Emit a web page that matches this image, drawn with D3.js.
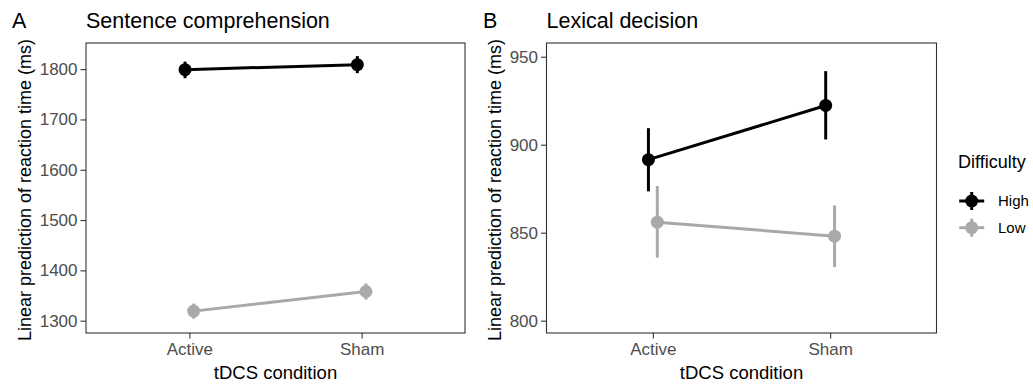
<!DOCTYPE html>
<html>
<head>
<meta charset="utf-8">
<script src="https://cdn.jsdelivr.net/npm/d3@7"></script>
<style>
  body { margin: 0; background: #fff; }
  svg { display: block; font-family: "Liberation Sans", Arial, sans-serif; }
</style>
</head>
<body>
<script>
// categories
var conditions = ["Active", "Sham"];
var difficulty = ["High", "Low"];

// Sentence comprehension: estimates and interval bounds
var sentHigh = [1799, 1809], sentHighLo = [1782, 1792], sentHighHi = [1815, 1826];
var sentLow = [1319, 1358], sentLowLo = [1304, 1342], sentLowHi = [1334, 1374];
var sentTicks = [1300, 1400, 1500, 1600, 1700, 1800];

// Lexical decision
var lexHigh = [891.5, 922.3], lexHighLo = [873.5, 903], lexHighHi = [909.4, 941.8];
var lexLow = [856, 848], lexLowLo = [835.8, 830.5], lexLowHi = [876.5, 865.5];
var lexTicks = [800, 850, 900, 950];

var colors = {High: "#000000", Low: "#a9a9a9"};

var W = 1033, H = 384;
var svg = d3.select("body").append("svg").attr("width", W).attr("height", H);

function rows(means, lo, hi, grp) {
    return conditions.map(function (c, i) {
        return {cond: c, grp: grp, m: means[i], lo: lo[i], hi: hi[i]};
    });
}

function panel(opt) {
    var x = d3.scalePoint().domain(conditions).range([opt.left, opt.right]).padding(0.6);
    var y = d3.scaleLinear().domain(opt.ydom).range([opt.bottom, opt.top]);
    var dodge = x.step() * 0.025;
    var off = {High: -dodge, Low: dodge};

    var g = svg.append("g");

    // panel tag + title
    g.append("text").attr("x", opt.tagX).attr("y", 28).attr("font-size", 21.5).attr("fill", "#000").text(opt.tag);
    g.append("text").attr("x", opt.left).attr("y", 28).attr("font-size", 21.5).attr("fill", "#000").text(opt.title);

    // axes
    var ya = d3.axisLeft(y).tickValues(opt.ticks).tickFormat(d3.format("d")).tickSize(5.5).tickPadding(3);
    var yg = g.append("g").attr("transform", "translate(" + opt.left + ",0)").call(ya);
    var xa = d3.axisBottom(x).tickSize(5.5).tickPadding(4);
    var xg = g.append("g").attr("transform", "translate(0," + opt.bottom + ")").call(xa);
    [yg, xg].forEach(function (a) {
        a.select(".domain").remove();
        a.selectAll(".tick line").attr("stroke", "#333333").attr("stroke-width", 1.1);
        a.selectAll(".tick text").attr("fill", "#4d4d4d").attr("font-size", 17)
            .attr("font-family", "Liberation Sans, Arial, sans-serif");
    });

    // axis titles
    g.append("text").attr("transform", "translate(" + opt.ytitleX + "," + ((opt.top + opt.bottom) / 2 + 2) + ") rotate(-90)")
        .attr("text-anchor", "middle").attr("font-size", 18).attr("fill", "#000")
        .text("Linear prediction of reaction time (ms)");
    g.append("text").attr("x", (opt.left + opt.right) / 2).attr("y", 379)
        .attr("text-anchor", "middle").attr("font-size", 18.5).attr("fill", "#000")
        .text("tDCS condition");

    // series
    opt.series.forEach(function (s) {
        var line = d3.line().x(function (d) { return x(d.cond) + off[d.grp]; }).y(function (d) { return y(d.m); });
        g.append("path").datum(s).attr("d", line).attr("fill", "none")
            .attr("stroke", colors[s[0].grp]).attr("stroke-width", 3);
        g.selectAll(null).data(s).enter().append("line")
            .attr("x1", function (d) { return x(d.cond) + off[d.grp]; })
            .attr("x2", function (d) { return x(d.cond) + off[d.grp]; })
            .attr("y1", function (d) { return y(d.lo); })
            .attr("y2", function (d) { return y(d.hi); })
            .attr("stroke", function (d) { return colors[d.grp]; }).attr("stroke-width", 3);
        g.selectAll(null).data(s).enter().append("circle")
            .attr("cx", function (d) { return x(d.cond) + off[d.grp]; })
            .attr("cy", function (d) { return y(d.m); })
            .attr("r", 6.5)
            .attr("fill", function (d) { return colors[d.grp]; });
    });

    // panel border
    g.append("rect").attr("x", opt.left).attr("y", opt.top)
        .attr("width", opt.right - opt.left).attr("height", opt.bottom - opt.top)
        .attr("fill", "none").attr("stroke", "#333333").attr("stroke-width", 1.1);
}

panel({
    tag: "A", tagX: 12, title: "Sentence comprehension",
    left: 86, right: 465, top: 43, bottom: 333, ytitleX: 31,
    ydom: [1275.5, 1852], ticks: sentTicks,
    series: [rows(sentHigh, sentHighLo, sentHighHi, "High"), rows(sentLow, sentLowLo, sentLowHi, "Low")]
});

panel({
    tag: "B", tagX: 483, title: "Lexical decision",
    left: 546.5, right: 936.5, top: 43, bottom: 333, ytitleX: 501,
    ydom: [793, 957.8], ticks: lexTicks,
    series: [rows(lexHigh, lexHighLo, lexHighHi, "High"), rows(lexLow, lexLowLo, lexLowHi, "Low")]
});

// legend
var leg = svg.append("g").attr("transform", "translate(958,0)");
leg.append("text").attr("x", 0).attr("y", 168).attr("font-size", 18).attr("fill", "#000").text("Difficulty");
var ky = d3.scalePoint().domain(difficulty).range([201, 227.7]);
difficulty.forEach(function (d) {
    var cy = ky(d), cx = 13.7;
    var k = leg.append("g");
    k.append("line").attr("x1", cx - 12.5).attr("x2", cx + 12.5).attr("y1", cy).attr("y2", cy)
        .attr("stroke", colors[d]).attr("stroke-width", 3);
    k.append("line").attr("x1", cx).attr("x2", cx).attr("y1", cy - 9).attr("y2", cy + 9)
        .attr("stroke", colors[d]).attr("stroke-width", 3);
    k.append("circle").attr("cx", cx).attr("cy", cy).attr("r", 6.5).attr("fill", colors[d]);
    leg.append("text").attr("x", 40).attr("y", cy).attr("dy", "0.35em")
        .attr("font-size", 15).attr("fill", "#000").text(d);
});
</script>
</body>
</html>
